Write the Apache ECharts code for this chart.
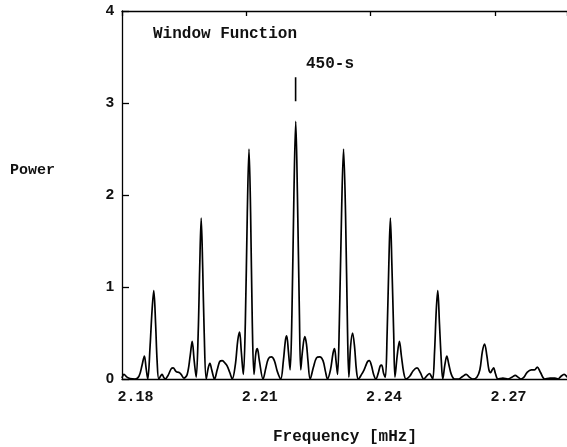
<!DOCTYPE html>
<html><head><meta charset="utf-8">
<script src="https://cdn.jsdelivr.net/npm/echarts@6/dist/echarts.min.js"></script>
<style>html,body{margin:0;padding:0;background:#fff}#c{width:567px;height:447px}</style>
</head><body><div id="c"></div>
<script>
const freq = [2.18,2.18048,2.18121,2.18194,2.18315,2.18411,2.18484,2.18540,2.18581,2.18622,
2.18677,2.18726,2.18767,2.18811,2.18847,2.18888,2.18944,2.18968,2.19004,2.19040,
2.19113,2.19186,2.19234,2.19307,2.19379,2.19427,2.19493,2.19573,2.19645,2.19694,
2.19742,2.19790,2.19839,2.19875,2.19911,2.19948,2.19984,2.20032,2.20081,2.20122,
2.20165,2.20233,2.20298,2.20359,2.20419,2.20492,2.20540,2.20601,2.20661,2.20734,
2.20794,2.20838,2.20879,2.20928,2.20976,2.21024,2.21065,2.21104,2.21145,2.21186,
2.21230,2.21266,2.21315,2.21404,2.21472,2.21532,2.21605,2.21677,2.21750,2.21830,
2.21895,2.21944,2.21975,2.22016,2.22057,2.22101,2.22149,2.22193,2.22234,2.22282,
2.22314,2.22355,2.22411,2.22452,2.22488,2.22541,2.22621,2.22694,2.22773,2.22851,
2.22911,2.22960,2.23032,2.23093,2.23129,2.23165,2.23202,2.23245,2.23299,2.23347,
2.23395,2.23444,2.23475,2.23516,2.23565,2.23613,2.23657,2.23703,2.23782,2.23843,
2.23879,2.23928,2.23969,2.24024,2.24073,2.24128,2.24194,2.24230,2.24266,2.24315,
2.24356,2.24399,2.24440,2.24477,2.24513,2.24557,2.24588,2.24641,2.24695,2.24743,
2.24799,2.24854,2.24944,2.25028,2.25120,2.25198,2.25282,2.25367,2.25420,2.25464,
2.25500,2.25544,2.25585,2.25621,2.25662,2.25706,2.25742,2.25791,2.25839,2.25887,
2.25948,2.26025,2.26129,2.26226,2.26306,2.26383,2.26468,2.26565,2.26637,2.26698,
2.26751,2.26807,2.26855,2.26896,2.26935,2.26969,2.27012,2.27073,2.27194,2.27315,
2.27411,2.27491,2.27557,2.27629,2.27702,2.27774,2.27878,2.27956,2.28024,2.28101,
2.28203,2.28331,2.28452,2.28524,2.28597,2.28670,2.28742];
const power = [0.01,0.05,0.02,0.005,0.0,0.03,0.15,0.25,0.12,0.0,
0.35,0.75,0.96,0.6,0.2,0.0,0.04,0.05,0.02,0.0,
0.04,0.11,0.12,0.08,0.07,0.05,0.01,0.05,0.25,0.41,
0.2,0.02,0.5,1.2,1.75,1.2,0.5,0.0,0.12,0.17,
0.1,0.0,0.1,0.19,0.2,0.17,0.14,0.07,0.0,0.15,
0.42,0.51,0.3,0.05,0.6,1.8,2.5,1.8,0.6,0.05,
0.28,0.33,0.2,0.0,0.12,0.22,0.24,0.2,0.08,0.0,
0.2,0.42,0.47,0.3,0.1,0.7,2.0,2.8,2.0,0.7,
0.1,0.3,0.46,0.38,0.2,0.0,0.13,0.23,0.24,0.2,
0.08,0.0,0.1,0.28,0.33,0.2,0.05,0.6,1.8,2.5,
1.8,0.5,0.02,0.35,0.5,0.35,0.1,0.0,0.05,0.1,
0.14,0.19,0.2,0.14,0.05,0.0,0.08,0.14,0.15,0.06,
0.02,0.5,1.25,1.75,1.25,0.5,0.02,0.25,0.41,0.25,
0.07,0.0,0.03,0.09,0.12,0.07,0.0,0.04,0.06,0.03,
0.0,0.3,0.75,0.96,0.6,0.2,0.0,0.15,0.25,0.16,
0.05,0.0,0.0,0.03,0.05,0.02,0.0,0.02,0.1,0.3,
0.38,0.25,0.1,0.07,0.1,0.12,0.06,0.0,0.01,0.0,
0.02,0.04,0.02,0.0,0.02,0.07,0.1,0.1,0.13,0.07,
0.0,0.01,0.01,0.0,0.03,0.05,0.02];
const xMin = 2.18, xMax = 2.2874, xStep = 0.03;
const yMin = 0, yMax = 4, yStep = 1;
const title = 'Window Function';
const markLabel = '450-s';
const markFreq = 2.2219;
const markRange = [3.02, 3.28];

const mono = '"Liberation Mono", "DejaVu Sans Mono", monospace';
const chart = echarts.init(document.getElementById('c'), null, {renderer: 'canvas'});
const data = freq.map((f, i) => [f, power[i]]);
chart.setOption({
  animation: false,
  backgroundColor: '#fff',
  grid: {left: 122, right: 0, top: 11, bottom: 68, containLabel: false},
  xAxis: [{
    type: 'value', min: xMin, max: xMax, interval: xStep, position: 'bottom',
    axisLine: {show: true, lineStyle: {color: '#000', width: 1.3}},
    axisTick: {show: false},
    splitLine: {show: false},
    axisLabel: {show: true, showMaxLabel: false, color: '#111', fontFamily: mono, fontWeight: 'bold', fontSize: 15,
      margin: 11, padding: [0, 0, 0, 27], formatter: v => v.toFixed(2)}
  }, {
    type: 'value', min: xMin, max: xMax, interval: xStep, position: 'top',
    axisLine: {show: true, lineStyle: {color: '#000', width: 1.3}},
    axisTick: {show: true, inside: true, length: 5, lineStyle: {color: '#000', width: 1.3}},
    axisLabel: {show: false}, splitLine: {show: false}
  }],
  yAxis: {
    type: 'value', min: yMin, max: yMax, interval: yStep,
    axisLine: {show: true, lineStyle: {color: '#000', width: 1.3}},
    axisTick: {show: true, inside: true, length: 7, lineStyle: {color: '#000', width: 1.3}},
    splitLine: {show: false},
    axisLabel: {color: '#111', fontFamily: '"Liberation Sans", Arial, sans-serif', fontWeight: 'bold', fontSize: 15, margin: 8}
  },
  series: [{
    type: 'line', data: data, showSymbol: false, smooth: 0.35,
    lineStyle: {color: '#000', width: 1.7}, z: 3
  }, {
    type: 'line', data: [[markFreq, markRange[0]], [markFreq, markRange[1]]], showSymbol: false,
    lineStyle: {color: '#000', width: 1.6}
  }],
  graphic: [
    {type: 'text', left: 153, top: 26, style: {text: title, font: 'bold 16px ' + mono, fill: '#111'}},
    {type: 'text', left: 306, top: 56, style: {text: markLabel, font: 'bold 16px ' + mono, fill: '#111'}},
    {type: 'text', left: 10, top: 163, style: {text: 'Power', font: 'bold 15px ' + mono, fill: '#111'}},
    {type: 'text', left: 273, top: 429, style: {text: 'Frequency [mHz]', font: 'bold 16px ' + mono, fill: '#111'}}
  ]
});
</script>
</body></html>
